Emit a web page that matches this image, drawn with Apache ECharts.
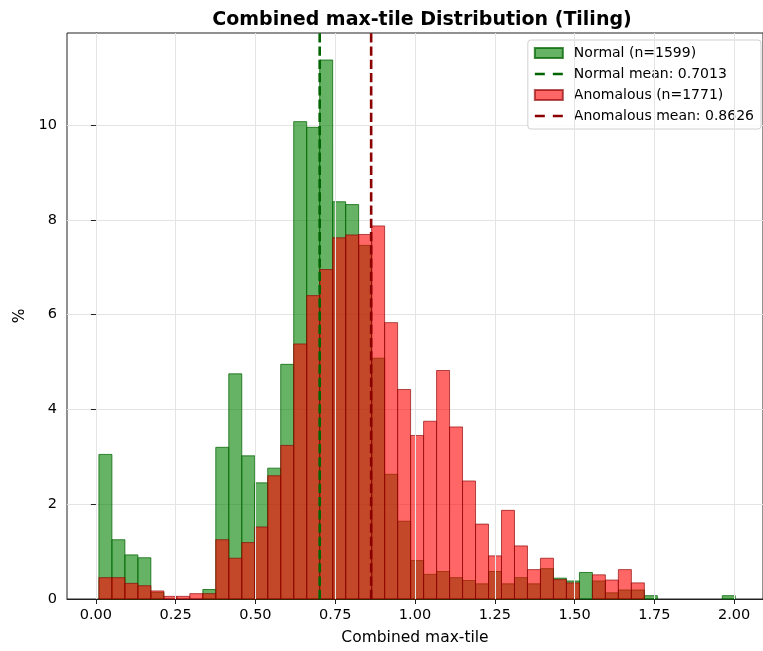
<!DOCTYPE html>
<html>
<head>
<meta charset="utf-8">
<script src="https://cdn.jsdelivr.net/npm/echarts@6/dist/echarts.min.js"></script>
<style>html,body{margin:0;padding:0;background:#fff}#c{width:763px;height:651px}</style>
</head>
<body>
<div id="c"></div>
<script>
// Histogram bins (shared by both groups)
const binStart = 0.0094;
const binWidth = 0.0407;
// Percent of samples per bin
const normalPct = [3.05,1.25,0.93,0.87,0.14,0,0,0,0.2,3.2,4.75,3.02,2.45,2.76,4.95,10.07,9.95,11.37,8.38,8.32,7.46,5.08,2.63,1.64,0.81,0.52,0.58,0.45,0.39,0.32,0.58,0.32,0.45,0.32,0.64,0.44,0.38,0.56,0.38,0.13,0.19,0.19,0.07,0,0,0,0,0,0.07];
const anomalousPct = [0.45,0.45,0.33,0.28,0.17,0.056,0.056,0.113,0.113,1.25,0.86,1.19,1.52,2.6,3.24,5.38,6.4,6.95,7.62,7.68,7.69,7.87,5.83,4.42,3.45,3.75,4.82,3.63,2.49,1.58,0.91,1.87,1.12,0.62,0.86,0.41,0.34,0,0.51,0.40,0.62,0.34,0,0,0,0,0,0,0];
const normalMean = 0.7013;
const anomalousMean = 0.8626;
const normalName = 'Normal (n=1599)';
const anomalousName = 'Anomalous (n=1771)';
const normalMeanName = 'Normal mean: 0.7013';
const anomalousMeanName = 'Anomalous mean: 0.8626';
const xTicks = [0, 0.25, 0.5, 0.75, 1.0, 1.25, 1.5, 1.75, 2.0];
const yTicks = [0, 2, 4, 6, 8, 10];

const xMin = -0.0906, xMax = 2.0906, yMin = 0, yMax = 11.94;
const FONT = 'DejaVu Sans';

function toBins(vals) {
  return vals.map((v, i) => [binStart + i * binWidth, binStart + (i + 1) * binWidth, v]);
}
function histSeries(name, vals, fill, stroke, z) {
  return {
    name: name, type: 'custom', z: z,
    itemStyle: {color: fill, borderColor: stroke, borderWidth: 1},
    encode: {x: [0, 1], y: 2},
    data: toBins(vals),
    renderItem: function (params, api) {
      const v = api.value(2);
      if (!(v > 0)) return null;
      const p0 = api.coord([api.value(0), v]);
      const p1 = api.coord([api.value(1), 0]);
      return {
        type: 'rect',
        shape: {x: p0[0], y: p0[1], width: p1[0] - p0[0], height: p1[1] - p0[1]},
        style: {fill: fill, stroke: stroke, lineWidth: 1}
      };
    }
  };
}
function meanSeries(name, x, color) {
  return {
    name: name, type: 'line', z: 5, symbol: 'none', silent: true,
    color: color,
    lineStyle: {color: color, width: 2.6, type: [9.25, 4]},
    data: [[x, yMin], [x, yMax]]
  };
}
const dashIcon = 'path://M0,0H10V2.5H0Z M18,0H28V2.5H18Z';

const chart = echarts.init(document.getElementById('c'), null, {renderer: 'canvas'});
chart.setOption({
  animation: false,
  backgroundColor: '#fff',
  title: {
    text: 'Combined max-tile Distribution (Tiling)',
    left: 417, top: 6, textAlign: 'center',
    textStyle: {fontFamily: FONT, fontSize: 19, fontWeight: 'bold', color: '#000'}
  },
  grid: {left: 67, right: -2, top: 33, bottom: 51, show: true, borderColor: '#222', borderWidth: 1, backgroundColor: 'transparent'},
  legend: {
    orient: 'vertical', right: 2, top: 40,
    itemWidth: 28, itemHeight: 10, itemGap: 7,
    backgroundColor: 'rgba(255,255,255,0.85)', borderColor: '#d0d0d0', borderWidth: 1, borderRadius: 3,
    padding: [6, 7, 6, 6],
    textStyle: {fontFamily: FONT, fontSize: 14, color: '#000', padding: [0, 0, 0, 6]},
    data: [
      {name: normalName, icon: 'rect'},
      {name: normalMeanName, icon: dashIcon},
      {name: anomalousName, icon: 'rect'},
      {name: anomalousMeanName, icon: dashIcon}
    ]
  },
  xAxis: {
    type: 'value', min: xMin, max: xMax,
    name: 'Combined max-tile', nameLocation: 'middle', nameGap: 31,
    nameTextStyle: {fontFamily: FONT, fontSize: 15.5, color: '#000'},
    axisLine: {show: true, lineStyle: {color: '#222', width: 1}},
    axisTick: {show: true, length: 5, customValues: xTicks, lineStyle: {color: '#222'}},
    axisLabel: {customValues: xTicks, margin: 9, fontFamily: FONT, fontSize: 14.5, color: '#000',
      formatter: v => v.toFixed(2)},
    splitLine: {show: false}
  },
  yAxis: {
    type: 'value', min: yMin, max: yMax, interval: 2,
    name: '%', nameLocation: 'middle', nameGap: 36, nameRotate: 90,
    nameTextStyle: {fontFamily: FONT, fontSize: 15.5, color: '#000'},
    axisLine: {show: true, lineStyle: {color: '#222', width: 1}},
    axisTick: {show: true, length: 5, customValues: yTicks, lineStyle: {color: '#222'}},
    axisLabel: {customValues: yTicks, margin: 10, fontFamily: FONT, fontSize: 14.5, color: '#000'},
    splitLine: {show: true, lineStyle: {color: '#e4e4e4', width: 1}}
  },
  series: [
    {
      type: 'line', data: [], silent: true, z: 1,
      markLine: {
        silent: true, symbol: ['none', 'none'], label: {show: false},
        lineStyle: {color: '#e4e4e4', type: 'solid', width: 1},
        emphasis: {disabled: true},
        data: xTicks.map(v => ({xAxis: v}))
      }
    },
    histSeries(normalName, normalPct, 'rgba(0,128,0,0.6)', 'rgba(0,100,0,0.75)', 2),
    histSeries(anomalousName, anomalousPct, 'rgba(255,0,0,0.6)', 'rgba(139,0,0,0.65)', 3),
    meanSeries(normalMeanName, normalMean, '#006400'),
    meanSeries(anomalousMeanName, anomalousMean, '#8b0000')
  ]
});
</script>
</body>
</html>
